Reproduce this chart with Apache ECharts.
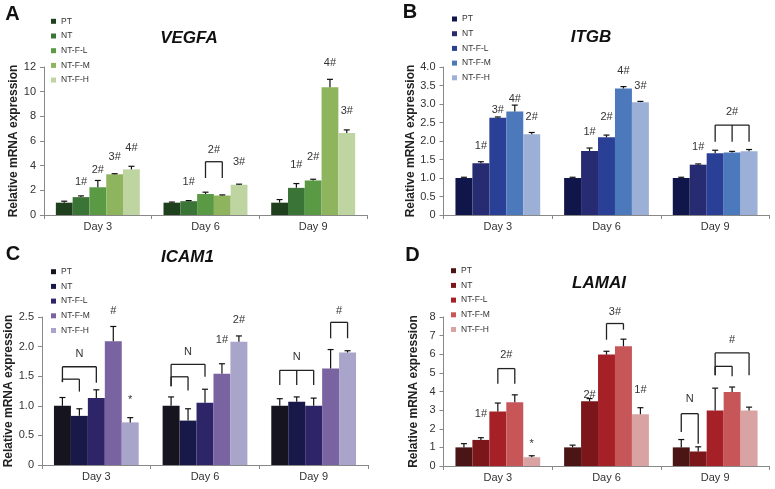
<!DOCTYPE html>
<html><head><meta charset="utf-8">
<script src="https://cdn.jsdelivr.net/npm/echarts@6/dist/echarts.min.js"></script>
<style>html,body{margin:0;padding:0;background:#fff}#c{width:775px;height:489px}</style>
</head><body><div id="c"></div>
<script>
const days = ['Day 3', 'Day 6', 'Day 9'];
const groups = ['PT', 'NT', 'NT-F-L', 'NT-F-M', 'NT-F-H'];

// Panel A: VEGFA  (rows = groups, columns = days)
const vegfaMean = [[1.0, 1.0, 1.0], [1.45, 1.12, 2.2], [2.25, 1.7, 2.8], [3.3, 1.58, 10.35], [3.7, 2.45, 6.65]];
const vegfaErr = [[0.12, 0.05, 0.25], [0.1, 0.05, 0.35], [0.55, 0.15, 0.1], [0.05, 0.05, 0.65], [0.25, 0.05, 0.25]];
const vegfaMarks = [[0, 1, '1#', 2.7], [0, 2, '2#', 3.65], [0, 3, '3#', 4.73], [0, 4, '4#', 5.4], [1, 1, '1#', 2.7], [1, 4, '3#', 4.32], [2, 1, '1#', 4.05], [2, 2, '2#', 4.73], [2, 3, '4#', 12.3], [2, 4, '3#', 8.43]];
const vegfaBrackets = [[1, [2, 3], 4.32, [3.0, 3.0], '2#', 5.27]];
const vegfaTicks = ['0', '2', '4', '6', '8', '10', '12'];

// Panel B: ITGB
const itgbMean = [[1.0, 1.0, 1.0], [1.4, 1.73, 1.36], [2.63, 2.1, 1.67], [2.8, 3.42, 1.69], [2.18, 3.05, 1.72]];
const itgbErr = [[0.02, 0.02, 0.02], [0.04, 0.08, 0.02], [0.02, 0.06, 0.08], [0.17, 0.05, 0.03], [0.05, 0.02, 0.05]];
const itgbMarks = [[0, 1, '1#', 1.87], [0, 2, '3#', 2.84], [0, 3, '4#', 3.14], [0, 4, '2#', 2.64], [1, 1, '1#', 2.25], [1, 2, '2#', 2.64], [1, 3, '4#', 3.9], [1, 4, '3#', 3.49], [2, 1, '1#', 1.85]];
const itgbBrackets = [[2, [2, 3, 4], 2.43, [1.98, 1.98, 1.98], '2#', 2.79]];
const itgbTicks = ['0', '0.5', '1.0', '1.5', '2.0', '2.5', '3.0', '3.5', '4.0'];

// Panel C: ICAM1
const icamMean = [[1.0, 1.0, 1.0], [0.83, 0.75, 1.07], [1.13, 1.05, 1.0], [2.09, 1.54, 1.63], [0.72, 2.08, 1.9]];
const icamErr = [[0.14, 0.15, 0.12], [0.12, 0.2, 0.08], [0.14, 0.23, 0.13], [0.25, 0.17, 0.32], [0.08, 0.1, 0.03]];
const icamMarks = [[0, 3, '#', 2.61], [0, 4, '*', 1.1], [1, 3, '1#', 2.11], [1, 4, '2#', 2.45]];
const icamBrackets = [[0, [0, 2], 1.66, [1.40, 1.39], 'N', 1.88], [0, [0, 1], 1.45, [1.40, 1.24], '', 0], [1, [0, 2], 1.70, [1.33, 1.49], 'N', 1.91], [1, [0, 1], 1.49, [1.33, 1.26], '', 0], [2, [0, 1, 2], 1.6, [1.35, 1.35, 1.35], 'N', 1.83], [2, [3, 4], 2.41, [2.14, 2.14], '#', 2.61]];
const icamTicks = ['0', '0.5', '1.0', '1.5', '2.0', '2.5'];

// Panel D: LAMAI
const lamaMean = [[1.0, 1.0, 1.0], [1.4, 3.47, 0.78], [2.93, 5.98, 2.98], [3.42, 6.43, 3.97], [0.47, 2.78, 2.98]];
const lamaErr = [[0.2, 0.12, 0.42], [0.12, 0.15, 0.25], [0.45, 0.18, 1.2], [0.4, 0.38, 0.27], [0.08, 0.35, 0.18]];
const lamaMarks = [[0, 1, '1#', 2.81], [0, 4, '*', 1.17], [1, 1, '2#', 3.8], [1, 4, '1#', 4.06]];
const lamaBrackets = [[0, [2, 3], 5.23, [4.42, 4.42], '2#', 5.94], [1, [2, 3], 7.65, [6.78, 7.32], '3#', 8.27], [2, [0, 1], 2.81, [1.83, 1.2], 'N', 3.62], [2, [2, 4], 6.07, [4.87, 4.87], '#', 6.75], [2, [2, 3], 5.35, [4.87, 4.82], '', 0]];
const lamaTicks = ['0', '1', '2', '3', '4', '5', '6', '7', '8'];

const FONT = "'Liberation Sans', Arial, sans-serif";
const CAT_GAP = 0.22;

const panels = [
  { key: 'A', title: 'VEGFA', mean: vegfaMean, err: vegfaErr, marks: vegfaMarks, brackets: vegfaBrackets, ticks: vegfaTicks,
    max: 12, interval: 2, grid: { left: 44, top: 67, width: 323, height: 148 },
    colors: ['#1f401d', '#3b7437', '#5b9a45', '#8fb45e', '#bfd5a1'],
    legend: { left: 51, top: 16.3 }, titlePos: [189, 38], letterPos: [12.5, 14] },
  { key: 'B', title: 'ITGB', mean: itgbMean, err: itgbErr, marks: itgbMarks, brackets: itgbBrackets, ticks: itgbTicks,
    max: 4, interval: 0.5, grid: { left: 443.5, top: 67, width: 326, height: 148 },
    colors: ['#11164a', '#272c72', '#2a3f96', '#4c79bc', '#9bafd7'],
    legend: { left: 452, top: 14 }, titlePos: [591, 37], letterPos: [410, 12] },
  { key: 'C', title: 'ICAM1', mean: icamMean, err: icamErr, marks: icamMarks, brackets: icamBrackets, ticks: icamTicks,
    max: 2.5, interval: 0.5, grid: { left: 42, top: 317, width: 326, height: 148 },
    colors: ['#16141f', '#181948', '#2d2567', '#7a63a1', '#a9a4ca'],
    legend: { left: 51, top: 266.7 }, titlePos: [187.5, 257], letterPos: [13, 254] },
  { key: 'D', title: 'LAMAI', mean: lamaMean, err: lamaErr, marks: lamaMarks, brackets: lamaBrackets, ticks: lamaTicks,
    max: 8, interval: 1, grid: { left: 443.5, top: 317, width: 326, height: 149 },
    colors: ['#4b1516', '#7b171a', '#a52027', '#c65658', '#d9a2a3'],
    legend: { left: 451, top: 265.7 }, titlePos: [599, 283], letterPos: [412.5, 255.5] }
];

function barX(api, d, g) {
  const c = api.coord([d, 0]);
  const bw = api.size([1, 0])[0];
  const inner = bw * (1 - CAT_GAP);
  const w = inner / groups.length;
  return c[0] - inner / 2 + (g + 0.5) * w;
}

const grids = [], xAxes = [], yAxes = [], series = [], legends = [], graphics = [];

panels.forEach((p, pi) => {
  grids.push(Object.assign({ containLabel: false }, p.grid));
  xAxes.push({
    type: 'category', gridIndex: pi, data: days,
    axisLine: { lineStyle: { color: '#888', width: 1 } },
    axisTick: { show: true, length: 4, lineStyle: { color: '#888' } },
    axisLabel: { color: '#333', fontSize: 11, fontFamily: FONT, margin: 6 }
  });
  yAxes.push({
    type: 'value', gridIndex: pi, min: 0, max: p.max, interval: p.interval,
    name: 'Relative mRNA expression', nameLocation: 'middle', nameGap: 24,
    nameTextStyle: { fontSize: 12, fontWeight: 'bold', color: '#222', fontFamily: FONT },
    axisLine: { show: true, lineStyle: { color: '#888', width: 1 } },
    axisTick: { show: true, length: 4, lineStyle: { color: '#888' } },
    splitLine: { show: false },
    axisLabel: { color: '#333', fontSize: 11, fontFamily: FONT, margin: 8,
      formatter: v => p.ticks[Math.round(v / p.interval)] }
  });
  const names = groups.map(g => p.key + '|' + g);
  groups.forEach((g, gi) => {
    series.push({
      type: 'bar', name: names[gi], xAxisIndex: pi, yAxisIndex: pi,
      data: p.mean[gi], barGap: '0%', barCategoryGap: (CAT_GAP * 100) + '%',
      itemStyle: { color: p.colors[gi] }, silent: true, animation: false
    });
  });
  // error bars
  const errData = [];
  groups.forEach((g, gi) => days.forEach((d, di) => errData.push([di, p.mean[gi][di], p.err[gi][di], gi])));
  series.push({
    type: 'custom', xAxisIndex: pi, yAxisIndex: pi, data: errData, silent: true, animation: false, z: 5, clip: false,
    renderItem: (params, api) => {
      const d = api.value(0), m = api.value(1), e = api.value(2), g = api.value(3);
      const x = barX(api, d, g);
      const y0 = api.coord([d, m])[1], y1 = api.coord([d, m + e])[1];
      const st = { stroke: '#111', lineWidth: 1.2 };
      return { type: 'group', children: [
        { type: 'line', shape: { x1: x, y1: y0, x2: x, y2: y1 }, style: st },
        { type: 'line', shape: { x1: x - 3, y1: y1, x2: x + 3, y2: y1 }, style: st }
      ] };
    }
  });
  // significance text marks
  series.push({
    type: 'custom', xAxisIndex: pi, yAxisIndex: pi, data: p.marks.map(m => [m[0], m[3]]),
    silent: true, animation: false, z: 6, clip: false,
    renderItem: (params, api) => {
      const m = p.marks[params.dataIndex];
      const x = barX(api, m[0], m[1]);
      const y = api.coord([m[0], m[3]])[1];
      return { type: 'text', x: x, y: y, style: { text: m[2], fill: '#333', font: '11px ' + FONT, textAlign: 'center', textVerticalAlign: 'middle' } };
    }
  });
  // brackets
  series.push({
    type: 'custom', xAxisIndex: pi, yAxisIndex: pi, data: p.brackets.map(b => [b[0], b[2]]),
    silent: true, animation: false, z: 6, clip: false,
    renderItem: (params, api) => {
      const b = p.brackets[params.dataIndex];
      const d = b[0];
      const xs = b[1].map(g => barX(api, d, g));
      const yTop = api.coord([d, b[2]])[1];
      const st = { stroke: '#222', lineWidth: 1.3 };
      const ch = [{ type: 'line', shape: { x1: xs[0], y1: yTop, x2: xs[xs.length - 1], y2: yTop }, style: st }];
      xs.forEach((x, i) => {
        const yb = api.coord([d, b[3][i]])[1];
        ch.push({ type: 'line', shape: { x1: x, y1: yTop, x2: x, y2: yb }, style: st });
      });
      if (b[4]) {
        ch.push({ type: 'text', x: (xs[0] + xs[xs.length - 1]) / 2, y: api.coord([d, b[5]])[1],
          style: { text: b[4], fill: '#333', font: '11px ' + FONT, textAlign: 'center', textVerticalAlign: 'middle' } });
      }
      return { type: 'group', children: ch };
    }
  });
  legends.push({
    orient: 'vertical', left: p.legend.left, top: p.legend.top, padding: 0,
    itemWidth: 5, itemHeight: 5, itemGap: 4.7, icon: 'rect', selectedMode: false,
    data: names, formatter: n => n.split('|')[1],
    textStyle: { fontSize: 8.5, color: '#333', fontFamily: FONT, lineHeight: 10 }
  });
  graphics.push({ type: 'text', x: p.titlePos[0], y: p.titlePos[1], silent: true,
    style: { text: p.title, fill: '#111', font: 'italic bold 17px ' + FONT, textAlign: 'center', textVerticalAlign: 'middle' } });
  graphics.push({ type: 'text', x: p.letterPos[0], y: p.letterPos[1], silent: true,
    style: { text: p.key, fill: '#111', font: 'bold 20px ' + FONT, textAlign: 'center', textVerticalAlign: 'middle' } });
});

const chart = echarts.init(document.getElementById('c'), null, { renderer: 'canvas' });
chart.setOption({
  animation: false,
  backgroundColor: '#fff',
  grid: grids, xAxis: xAxes, yAxis: yAxes, series: series, legend: legends, graphic: graphics
});
</script></body></html>
